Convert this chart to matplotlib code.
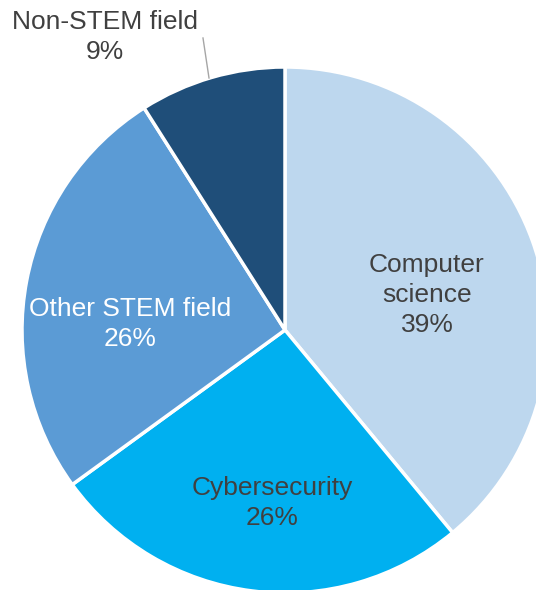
import matplotlib
matplotlib.use("Agg")
import matplotlib.pyplot as plt

plt.rcParams['font.family'] = ['Liberation Sans', 'DejaVu Sans']

labels = ["Computer\nscience", "Cybersecurity", "Other STEM field", "Non-STEM field"]
values = [39, 26, 26, 9]
colors = ["#BDD7EE", "#00B0F0", "#5B9BD5", "#1F4E79"]
text_colors = ["#404040", "#404040", "white", "#404040"]

fig = plt.figure(figsize=(5.36, 5.90), dpi=100)
ax = fig.add_axes([0, 0, 1, 1])

R = 263
wedges, _ = ax.pie(values, colors=colors, startangle=90, counterclock=False,
                   radius=R, wedgeprops=dict(edgecolor="white", linewidth=2.5))

# label positions in pixels from top-left (center of pie at 285, 330)
pos = [(427, 295), (272, 503), (130, 324), (105, 37)]
for lab, v, c, (px, py) in zip(labels, values, text_colors, pos):
    ax.text(px - 285, 330 - py, f"{lab}\n{v}%", ha="center", va="center",
            fontsize=19, color=c, linespacing=1.3)

# leader line for the small slice
ax.plot([203 - 285, 209 - 285], [330 - 38, 330 - 78], color="#A6A6A6", lw=1)

ax.set_xlim(-285, 536 - 285)
ax.set_ylim(330 - 590, 330)
ax.set_aspect("equal")
ax.axis("off")

fig.savefig("out.png", dpi=100)
